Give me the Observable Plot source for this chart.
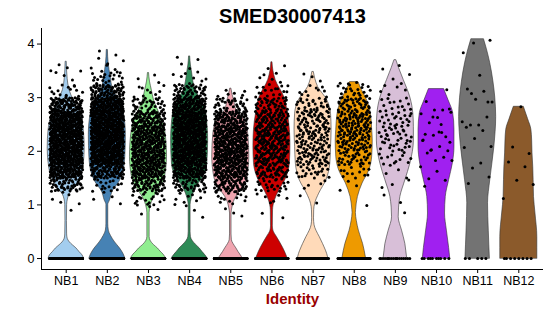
<!DOCTYPE html>
<html>
<head>
<meta charset="utf-8">
<script src="https://cdn.jsdelivr.net/npm/d3@7"></script>
<script src="https://cdn.jsdelivr.net/npm/@observablehq/plot@0.6"></script>
<style>
  html, body { margin: 0; padding: 0; background: #fff; }
</style>
</head>
<body>
<div id="chart"></div>
<script>
const title = "SMED30007413";
const xTitle = "Identity";
const groups = ["NB1","NB2","NB3","NB4","NB5","NB6","NB7","NB8","NB9","NB10","NB11","NB12"];
const colors = ["#A3CDEE","#4682B4","#90EE90","#2E8B57","#F0A5B0","#CD0000","#FFDAB9","#EE9A00","#D8BFD8","#A020F0","#737373","#8B5A2B"];
const yTicks = [0, 1, 2, 3, 4];

// violin outline: expression levels and relative widths
const violinY = [
  [0,0.06,0.12,0.19,0.25,0.3,0.37,0.45,0.7,1.0,1.1,1.2,1.3,1.45,1.7,2.05,2.4,2.7,2.95,3.14,3.35,3.67],
  [0,0.08,0.19,0.3,0.42,0.52,0.65,1.0,1.08,1.27,1.4,1.6,1.9,2.3,2.7,3.0,3.14,3.39,3.64,3.89],
  [0,0.07,0.13,0.19,0.25,0.32,0.4,0.85,0.95,1.05,1.15,1.3,1.5,1.9,2.4,2.7,2.95,3.14,3.3,3.46],
  [0,0.06,0.12,0.19,0.26,0.33,0.4,0.5,1.0,1.1,1.21,1.33,1.5,1.75,2.2,2.7,3.0,3.14,3.3,3.45,3.6,3.77],
  [0,0.06,0.12,0.19,0.27,0.34,0.45,0.84,0.95,1.05,1.15,1.3,1.5,1.9,2.3,2.6,2.77,2.95,3.05,3.17],
  [0,0.02,0.2,0.4,0.52,0.6,0.9,1.08,1.27,1.46,1.78,2.1,2.4,2.7,3.0,3.33,3.5,3.66],
  [0,0.02,0.27,0.4,0.52,0.62,0.75,0.9,1.02,1.21,1.46,1.77,2.08,2.4,2.7,2.95,3.2,3.35,3.48],
  [0,0.02,0.27,0.52,0.7,0.85,0.9,1.15,1.4,1.64,1.9,2.2,2.4,2.7,3.0,3.15,3.29],
  [0,0.02,0.27,0.52,0.77,0.95,1.15,1.46,1.77,2.2,2.45,2.7,3.0,3.33,3.55,3.7],
  [0,0.2,0.52,0.84,1.15,1.46,1.77,2.08,2.4,2.71,2.95,3.16],
  [0,0.52,1.03,1.46,2.08,2.64,3.0,3.3,3.64,3.9,4.09],
  [0,0.4,0.84,1.15,1.46,1.7,1.96,2.2,2.4,2.6,2.83]
];
const violinW = [
  [0.95,0.88,0.72,0.55,0.35,0.2,0.08,0.05,0.04,0.05,0.09,0.19,0.42,0.7,0.92,1.0,0.95,0.75,0.4,0.18,0.08,0.03],
  [0.97,0.88,0.68,0.42,0.2,0.08,0.05,0.05,0.14,0.32,0.6,0.85,0.97,1.0,0.9,0.55,0.32,0.18,0.07,0.03],
  [0.95,0.82,0.65,0.5,0.3,0.13,0.06,0.06,0.1,0.18,0.32,0.6,0.88,1.0,0.9,0.6,0.3,0.18,0.08,0.03],
  [0.97,0.85,0.7,0.54,0.33,0.16,0.07,0.05,0.05,0.1,0.2,0.36,0.7,0.95,1.0,0.9,0.55,0.32,0.2,0.14,0.07,0.03],
  [0.65,0.54,0.42,0.3,0.15,0.06,0.04,0.04,0.09,0.16,0.3,0.6,0.88,1.0,0.95,0.7,0.3,0.18,0.1,0.03],
  [0.85,0.83,0.6,0.27,0.08,0.05,0.06,0.16,0.4,0.72,0.97,1.0,0.97,0.86,0.68,0.2,0.08,0.03],
  [0.82,0.81,0.54,0.36,0.18,0.08,0.05,0.06,0.11,0.33,0.72,0.93,0.97,1.0,0.97,0.77,0.27,0.12,0.04],
  [0.64,0.63,0.48,0.25,0.14,0.09,0.1,0.2,0.45,0.81,0.97,1.0,0.97,0.9,0.63,0.4,0.23],
  [0.64,0.63,0.54,0.36,0.18,0.2,0.27,0.54,0.81,1.0,1.0,0.97,0.81,0.45,0.2,0.05],
  [0.74,0.68,0.56,0.46,0.5,0.68,0.88,0.97,0.97,0.9,0.65,0.41],
  [0.66,0.6,0.56,0.68,0.9,1.0,0.95,0.85,0.68,0.5,0.34],
  [1.0,1.0,0.9,0.82,0.8,0.78,0.74,0.72,0.68,0.5,0.27]
];

// cells with zero expression per identity
const zeroCounts = [420,420,400,420,360,170,55,70,18,10,5,8];
// counts of expressing cells in 0.25-wide bins
const binStarts = [0.75,1.0,1.25,1.5,1.75,2.0,2.25,2.5,2.75,3.0,3.25,3.5,3.75];
const binCounts = [
  [1,5,50,125,145,150,150,140,90,15,4,3,0],
  [0,4,18,85,140,150,150,145,130,75,22,6,2],
  [4,18,62,98,105,105,98,76,35,9,3,0,0],
  [3,9,42,105,130,140,140,130,105,48,8,3,1],
  [3,14,62,98,110,110,105,84,35,6,0,0,0],
  [2,6,24,48,66,70,70,60,42,18,5,2,0],
  [0,2,4,24,40,40,40,40,28,10,3,0,0],
  [1,0,3,14,32,45,50,50,40,22,3,0,0],
  [1,2,3,4,12,19,19,19,14,5,3,2,0],
  [0,0,0,0,0,0,0,0,0,0,0,0,0],
  [0,0,0,0,0,0,0,0,0,0,0,0,0],
  [0,0,0,0,0,0,0,0,0,0,0,0,0]
];
// individually readable expressing cells for the small identities
const sparseValues = [
  [],[],[],[],[],[],[],[],[],
  [3.15,2.93,2.77,2.77,2.73,2.70,2.63,2.53,2.27,2.32,2.35,2.30,2.17,2.21,2.09,2.03,2.01,1.97,1.89,1.83,1.83,1.71,1.63,1.49,1.46,1.35,2.5,2.64,2.79,2.2,2.36,2.02],
  [4.02,4.07,3.84,3.42,3.08,2.92,3.16,3.12,2.97,2.92,2.55,2.49,2.49,2.64,2.45,2.39,2.24,2.09,2.07,1.78,1.69,1.52,1.40],
  [2.83,2.08,1.96,1.80,1.71,1.46,1.38,1.12]
];

// ---- build tables ----
function halton(i, b) { let f = 1, r = 0; while (i > 0) { f /= b; r += f * (i % b); i = Math.floor(i / b); } return r; }
const JITTER = 0.4, HALF = 0.45;

const violinRows = [];
groups.forEach((g, gi) => {
  violinY[gi].forEach((y, j) => violinRows.push({g, pos: gi + 1, y, w: violinW[gi][j]}));
});

const pointRows = [];
groups.forEach((g, gi) => {
  let k = 1;
  const pos = gi + 1;
  const maxV = violinY[gi][violinY[gi].length - 1];
  const jit = () => (halton(k, 2) * 2 - 1) * JITTER;
  for (let i = 0; i < zeroCounts[gi]; i++, k++) pointRows.push({g, x: pos + jit(), y: 0});
  binStarts.forEach((lo, bi) => {
    const hi = Math.min(lo + 0.25, maxV);
    for (let i = 0; i < binCounts[gi][bi]; i++, k++) {
      pointRows.push({g, x: pos + jit(), y: lo + (hi - lo) * halton(k, 3)});
    }
  });
  sparseValues[gi].forEach(v => { pointRows.push({g, x: pos + jit(), y: v}); k++; });
});

const xDomain = [0.4, 12.6];
const yDomain = [-0.2045, 4.29];

const chart = Plot.plot({
  width: 550,
  height: 316,
  marginLeft: 41,
  marginRight: 7,
  marginTop: 28,
  marginBottom: 47,
  style: {fontFamily: "'Liberation Sans', Arial, Helvetica, sans-serif", fontSize: "12.5px", color: "black", background: "white"},
  x: {domain: xDomain, axis: null},
  y: {domain: yDomain, axis: null},
  color: {domain: groups, range: colors},
  marks: [
    Plot.areaX(violinRows, {
      y: "y",
      x1: d => d.pos - HALF * d.w,
      x2: d => d.pos + HALF * d.w,
      z: "g",
      fill: "g",
      stroke: "#333",
      strokeWidth: 0.6,
      curve: "monotone-y"
    }),
    Plot.dot(pointRows, {x: "x", y: "y", r: 1.5, fill: "black", stroke: null}),
    Plot.ruleX([xDomain[0]], {stroke: "black", strokeWidth: 1}),
    Plot.ruleY([yDomain[0]], {stroke: "black", strokeWidth: 1}),
    Plot.axisY({ticks: yTicks, tickSize: 4, tickPadding: 3, tickFormat: d => String(d), label: null, fontSize: 12.5, stroke: "black"}),
    Plot.axisX({ticks: d3.range(1, groups.length + 1), tickSize: 4, tickPadding: 3, tickFormat: i => groups[i - 1], label: null, fontSize: 12.5, stroke: "black"}),
    Plot.text([title], {frameAnchor: "top", dy: -11.5, text: d => d, fontSize: 20, fontWeight: "bold", fill: "black", lineAnchor: "middle"}),
    Plot.text([xTitle], {frameAnchor: "bottom", dy: 30, text: d => d, fontSize: 15, fontWeight: "bold", fill: "#990000", lineAnchor: "middle"})
  ]
});
document.getElementById("chart").appendChild(chart);
</script>
</body>
</html>
